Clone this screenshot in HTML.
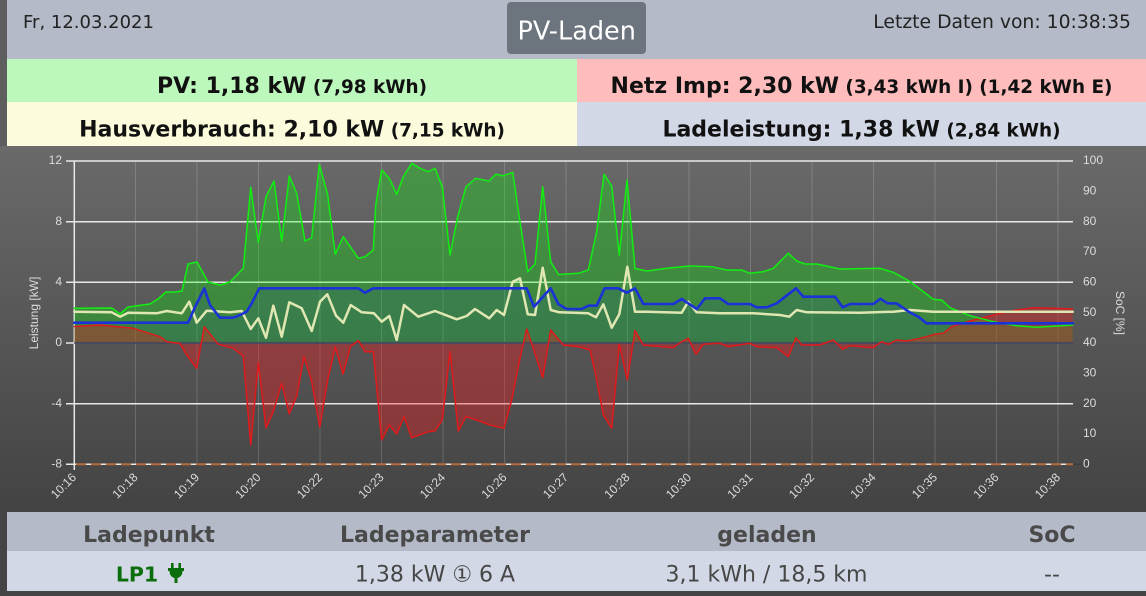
<!DOCTYPE html>
<html><head><meta charset="utf-8">
<style>
html,body{margin:0;padding:0;width:1146px;height:596px;overflow:hidden;background:#444;}
svg{display:block;}
</style></head>
<body>
<svg width="1146" height="596" viewBox="0 0 1146 596" xmlns="http://www.w3.org/2000/svg">
<defs>
<linearGradient id="bg" x1="0" y1="146" x2="0" y2="512" gradientUnits="userSpaceOnUse">
<stop offset="0" stop-color="#6a6a6a"/><stop offset="1" stop-color="#434343"/>
</linearGradient>
</defs>
<!-- page frame -->
<rect x="0" y="0" width="1146" height="596" fill="#444"/>
<rect x="0" y="0" width="7" height="146" fill="#5e5e5e"/>
<!-- top header -->
<rect x="7" y="0" width="1139" height="59" fill="#b5bac8"/>
<text x="23" y="28" font-family="DejaVu Sans, Liberation Sans, sans-serif" font-size="18" fill="#222">Fr, 12.03.2021</text>
<text x="1131" y="28" text-anchor="end" font-family="DejaVu Sans, Liberation Sans, sans-serif" font-size="18.8" fill="#222">Letzte Daten von: 10:38:35</text>
<rect x="507" y="2" width="139" height="52" rx="4" fill="#6c757d"/>
<text x="576.7" y="39.3" text-anchor="middle" font-family="DejaVu Sans, Liberation Sans, sans-serif" font-size="25.5" fill="#fff">PV-Laden</text>
<!-- rows -->
<rect x="7" y="59" width="570" height="43" fill="#bcf8bc"/>
<rect x="577" y="59" width="569" height="43" fill="#ffbcbc"/>
<rect x="7" y="102" width="570" height="44" fill="#fcfcdc"/>
<rect x="577" y="102" width="569" height="44" fill="#d2d8e6"/>
<g font-family="DejaVu Sans, Liberation Sans, sans-serif" font-weight="bold" fill="#111" text-anchor="middle">
<text x="292" y="93"><tspan font-size="22">PV: 1,18 kW</tspan><tspan font-size="18.4"> (7,98 kWh)</tspan></text>
<text x="861.5" y="93"><tspan font-size="22">Netz Imp: 2,30 kW</tspan><tspan font-size="18.4"> (3,43 kWh I) (1,42 kWh E)</tspan></text>
<text x="292" y="136.5"><tspan font-size="22">Hausverbrauch: 2,10 kW</tspan><tspan font-size="18.4"> (7,15 kWh)</tspan></text>
<text x="861.5" y="136.5"><tspan font-size="22">Ladeleistung: 1,38 kW</tspan><tspan font-size="18.4"> (2,84 kWh)</tspan></text>
</g>
<!-- chart background -->
<rect x="0" y="146" width="1146" height="366" fill="url(#bg)"/>
<!-- vertical gridlines -->
<g stroke="#ffffff" stroke-opacity="0.17" stroke-width="1">
<line x1="135.5" y1="161" x2="135.5" y2="465"/><line x1="197" y1="161" x2="197" y2="465"/>
<line x1="258.5" y1="161" x2="258.5" y2="465"/><line x1="320" y1="161" x2="320" y2="465"/>
<line x1="381.5" y1="161" x2="381.5" y2="465"/><line x1="443" y1="161" x2="443" y2="465"/>
<line x1="504.5" y1="161" x2="504.5" y2="465"/><line x1="566" y1="161" x2="566" y2="465"/>
<line x1="627.5" y1="161" x2="627.5" y2="465"/><line x1="689" y1="161" x2="689" y2="465"/>
<line x1="750.5" y1="161" x2="750.5" y2="465"/><line x1="812" y1="161" x2="812" y2="465"/>
<line x1="873.5" y1="161" x2="873.5" y2="465"/><line x1="935" y1="161" x2="935" y2="465"/>
<line x1="996.5" y1="161" x2="996.5" y2="465"/><line x1="1058" y1="161" x2="1058" y2="465"/>
</g>
<!-- horizontal gridlines -->
<g stroke="#e8e8e8" stroke-width="1.5">
<line x1="66" y1="161" x2="1073" y2="161"/>
<line x1="66" y1="221.7" x2="1073" y2="221.7"/>
<line x1="66" y1="282.3" x2="1073" y2="282.3"/>
<line x1="66" y1="403.7" x2="1073" y2="403.7"/>
<line x1="66" y1="464.3" x2="1073" y2="464.3"/>
<line x1="66" y1="343" x2="74" y2="343"/>
</g>
<line x1="74.3" y1="161" x2="74.3" y2="470" stroke="#e8e8e8" stroke-width="1.5"/>
<g stroke="#3c3c3c" stroke-width="1.2">
<line x1="1073" y1="464.3" x2="1081" y2="464.3"/>
</g>
<!-- fills -->
<polygon fill="rgb(0,255,0)" fill-opacity="0.29" points="74.3,308.3 111.7,308 120,314 128,307 150,304 158,299 166,292 175,292 182,291 188,264 197,262 208,282 220,285 230,282 243.3,268.3 250.7,187.3 258.3,242.3 266,196.7 274,181 281.7,241 289.3,176 296.7,193.3 305,241 311.7,237.7 319.3,164.3 327.7,195 335.3,254.3 343.3,236.7 358.3,258.3 365,256.7 373.3,250 375.7,205 381.7,170 389.3,178.3 396.7,194.3 403.3,176.7 411.7,163.3 420,168.3 428.3,171.7 435,168.3 442.3,186.7 450,255 457.7,216.7 466,186.7 475.7,178.3 489,181 495.7,174.3 503.3,175.7 512.7,172.3 520,221.7 527.7,271.7 535,264 542.7,186.7 550.7,261.7 558.5,274.5 578.3,273.3 588.3,270 596.7,231.7 604,174.3 611.7,186 619.3,255 627,180 635,268.5 646.7,271 666.7,268.3 690,266 711.7,266.7 726.7,270 741.7,270 750,273.3 763.3,271.7 773.3,268.3 788.3,253.3 796.7,261 805,264 816.7,264 840,269 880,268.3 893.3,272.3 910,281.5 933.3,299.3 941.7,300 950,307.7 970,315.7 993.3,321.7 1016.7,325.7 1036.7,327.3 1072.7,325 1072.7,343 74.3,343"/>
<polygon fill="rgb(0,0,255)" fill-opacity="0.07" points="74.3,322.7 188,322.7 196,305 204.3,288.3 210,305 220,317.7 233,317.7 240,315 246.7,311.7 251.7,303.3 259.3,288.3 358.3,288.3 365,292.7 373.3,288.3 526.7,288.3 534,306.7 550.7,288.3 558.3,304 566.7,309 581.7,309 588.3,305.7 596.7,305.7 604.5,288.3 618.3,288.3 626.7,292.7 635,288.3 643.3,304 673.3,304 681.7,299 696.7,309 705,298.3 720,298.3 728.3,304 750,304 756.7,307.3 766.7,307.3 776.7,303.3 796,288.3 803.3,296.7 835,296.7 842.7,307.3 850,304 873.3,304 880.5,298.7 887.5,303.3 896.7,303.5 910,312.5 918.3,316.7 926.7,323.3 1072.7,323.3 1072.7,343 74.3,343"/>
<polygon fill="rgb(255,20,20)" fill-opacity="0.34" points="74.3,326.5 100,325 133.3,328.3 160,336.7 166.7,341.7 180,343.5 186.7,355 196.7,368.3 204.3,326.7 218.3,344.3 233.3,348.3 243.3,356 250.7,445 258.3,363 266,428 273.3,411.7 281.7,383.3 289.3,414 296.7,396 304,356.5 311.7,381.7 319.8,427 327.8,379 335.3,347.2 343,374 350.4,346.7 358.3,340.5 365,351.7 373.3,351.7 381.7,440 389.3,425 396.7,434 404,416.7 411.7,437.7 428.3,431.7 435,431 442.3,420 450,351.7 458.3,431 466,416.7 476.7,420 490,425 504,428.3 511.7,400 520,358.3 526.7,329 533.3,348.3 542.7,377.7 550.7,330 563.3,345 578.3,346.7 590,350 596,376.7 603.3,415 611.7,428.3 619.3,344.3 627.3,380 635,330.5 643.3,345 673.3,347.7 681.7,341.7 688.3,338.3 696,354.3 703.3,344.3 720,343.3 728.3,346.7 750,343.3 756.7,346.7 776.7,347.7 788.3,356.7 796,337.7 801.7,345 820,345 833.3,340 842.7,349.3 850,345.7 873.3,347.7 881.7,341.7 888.3,344.3 896.7,340 906.7,341 920,338.3 935,334.3 943.3,333.3 951.7,326.7 970,321 993.3,315 1016.7,310 1033.3,307.7 1053.3,308.3 1072.7,309 1072.7,343 74.3,343"/>
<!-- zero line -->
<line x1="74.3" y1="343" x2="1073" y2="343" stroke="#4b4a5a" stroke-width="2.2"/>
<!-- SoC dashed -->
<line x1="76" y1="464.3" x2="1073" y2="464.3" stroke="#b66b3c" stroke-width="2" stroke-dasharray="10 5"/>
<!-- lines -->
<g fill="none" stroke-linejoin="round" stroke-linecap="round">
<polyline stroke="#e01a1c" stroke-width="1.5" points="74.3,326.5 100,325 133.3,328.3 160,336.7 166.7,341.7 180,343.5 186.7,355 196.7,368.3 204.3,326.7 218.3,344.3 233.3,348.3 243.3,356 250.7,445 258.3,363 266,428 273.3,411.7 281.7,383.3 289.3,414 296.7,396 304,356.5 311.7,381.7 319.8,427 327.8,379 335.3,347.2 343,374 350.4,346.7 358.3,340.5 365,351.7 373.3,351.7 381.7,440 389.3,425 396.7,434 404,416.7 411.7,437.7 428.3,431.7 435,431 442.3,420 450,351.7 458.3,431 466,416.7 476.7,420 490,425 504,428.3 511.7,400 520,358.3 526.7,329 533.3,348.3 542.7,377.7 550.7,330 563.3,345 578.3,346.7 590,350 596,376.7 603.3,415 611.7,428.3 619.3,344.3 627.3,380 635,330.5 643.3,345 673.3,347.7 681.7,341.7 688.3,338.3 696,354.3 703.3,344.3 720,343.3 728.3,346.7 750,343.3 756.7,346.7 776.7,347.7 788.3,356.7 796,337.7 801.7,345 820,345 833.3,340 842.7,349.3 850,345.7 873.3,347.7 881.7,341.7 888.3,344.3 896.7,340 906.7,341 920,338.3 935,334.3 943.3,333.3 951.7,326.7 970,321 993.3,315 1016.7,310 1033.3,307.7 1053.3,308.3 1072.7,309"/>
<polyline stroke="#12ee12" stroke-width="1.5" points="74.3,308.3 111.7,308 120,314 128,307 150,304 158,299 166,292 175,292 182,291 188,264 197,262 208,282 220,285 230,282 243.3,268.3 250.7,187.3 258.3,242.3 266,196.7 274,181 281.7,241 289.3,176 296.7,193.3 305,241 311.7,237.7 319.3,164.3 327.7,195 335.3,254.3 343.3,236.7 358.3,258.3 365,256.7 373.3,250 375.7,205 381.7,170 389.3,178.3 396.7,194.3 403.3,176.7 411.7,163.3 420,168.3 428.3,171.7 435,168.3 442.3,186.7 450,255 457.7,216.7 466,186.7 475.7,178.3 489,181 495.7,174.3 503.3,175.7 512.7,172.3 520,221.7 527.7,271.7 535,264 542.7,186.7 550.7,261.7 558.5,274.5 578.3,273.3 588.3,270 596.7,231.7 604,174.3 611.7,186 619.3,255 627,180 635,268.5 646.7,271 666.7,268.3 690,266 711.7,266.7 726.7,270 741.7,270 750,273.3 763.3,271.7 773.3,268.3 788.3,253.3 796.7,261 805,264 816.7,264 840,269 880,268.3 893.3,272.3 910,281.5 933.3,299.3 941.7,300 950,307.7 970,315.7 993.3,321.7 1016.7,325.7 1036.7,327.3 1072.7,325"/>
<polyline stroke="#e0e7b2" stroke-width="2.5" points="74.3,311.7 111.7,312.3 120,316.7 128.3,312.7 156.7,313.3 166.7,311 181.7,313.3 189.3,301.7 196.7,322.7 206.7,310.7 230,312.3 241.7,311 250.7,329 258.3,318.3 266,337.7 273.3,305.7 281.7,336.7 289.3,302.3 301.7,308.3 311.7,331 320,301.7 327.3,294.3 336,315.7 343.3,322.7 350.7,305 361.7,312.3 374,313.3 381.7,321.7 389.3,316 396.7,340 404,305 418.3,316.7 435,311 456.7,319.3 466.7,316 475,309 489.3,318.3 496.7,310 504,315 512.7,281.7 520,278.3 527.7,314.3 535,315 542.7,267.7 550.7,310 559.3,312.3 588.3,313.3 596,317.3 603.3,304.3 611.7,327.7 619.3,314.3 627.3,266.7 635,311.7 646.7,311.7 681.7,312.7 688.3,301.7 696.7,312.3 720,313.3 753.3,313.3 780,315 789.3,316.7 796.7,310 806.7,312.3 860,312.7 893.3,311.7 910,310 933.3,311.7 1072.7,311.7"/>
<polyline stroke="#1a32d6" stroke-width="2.6" points="74.3,322.7 188,322.7 196,305 204.3,288.3 210,305 220,317.7 233,317.7 240,315 246.7,311.7 251.7,303.3 259.3,288.3 358.3,288.3 365,292.7 373.3,288.3 526.7,288.3 534,306.7 550.7,288.3 558.3,304 566.7,309 581.7,309 588.3,305.7 596.7,305.7 604.5,288.3 618.3,288.3 626.7,292.7 635,288.3 643.3,304 673.3,304 681.7,299 696.7,309 705,298.3 720,298.3 728.3,304 750,304 756.7,307.3 766.7,307.3 776.7,303.3 796,288.3 803.3,296.7 835,296.7 842.7,307.3 850,304 873.3,304 880.5,298.7 887.5,303.3 896.7,303.5 910,312.5 918.3,316.7 926.7,323.3 1072.7,323.3"/>
</g>
<!-- axis labels -->
<g font-family="Liberation Sans, Arial, sans-serif" font-size="12" fill="#dcdcdc">
<g text-anchor="end" dominant-baseline="middle">
<text x="62" y="161">12</text><text x="62" y="221.7">8</text><text x="62" y="282.3">4</text>
<text x="62" y="343">0</text><text x="62" y="403.7">-4</text><text x="62" y="464.3">-8</text>
</g>
<g dominant-baseline="middle">
<text x="1083" y="161">100</text><text x="1083" y="191.3">90</text><text x="1083" y="221.7">80</text>
<text x="1083" y="252">70</text><text x="1083" y="282.3">60</text><text x="1083" y="312.7">50</text>
<text x="1083" y="343">40</text><text x="1083" y="373.3">30</text><text x="1083" y="403.7">20</text>
<text x="1083" y="434">10</text><text x="1083" y="464.3">0</text>
</g>
<text transform="translate(38,313) rotate(-90)" text-anchor="middle">Leistung [kW]</text>
<text transform="translate(1116,313) rotate(90)" text-anchor="middle">SoC [%]</text>
<g text-anchor="end">
<text transform="translate(77,478) rotate(-45)">10:16</text>
<text transform="translate(138.5,478) rotate(-45)">10:18</text>
<text transform="translate(200,478) rotate(-45)">10:19</text>
<text transform="translate(261.5,478) rotate(-45)">10:20</text>
<text transform="translate(323,478) rotate(-45)">10:22</text>
<text transform="translate(384.5,478) rotate(-45)">10:23</text>
<text transform="translate(446,478) rotate(-45)">10:24</text>
<text transform="translate(507.5,478) rotate(-45)">10:26</text>
<text transform="translate(569,478) rotate(-45)">10:27</text>
<text transform="translate(630.5,478) rotate(-45)">10:28</text>
<text transform="translate(692,478) rotate(-45)">10:30</text>
<text transform="translate(753.5,478) rotate(-45)">10:31</text>
<text transform="translate(815,478) rotate(-45)">10:32</text>
<text transform="translate(876.5,478) rotate(-45)">10:34</text>
<text transform="translate(938,478) rotate(-45)">10:35</text>
<text transform="translate(999.5,478) rotate(-45)">10:36</text>
<text transform="translate(1061,478) rotate(-45)">10:38</text>
</g>
</g>
<!-- bottom table -->
<rect x="7" y="512" width="1139" height="39" fill="#b5bac8"/>
<rect x="7" y="551" width="1139" height="40" fill="#d2d8e6"/>
<g font-family="DejaVu Sans, Liberation Sans, sans-serif" font-size="22" font-weight="bold" fill="#4a4a4a" text-anchor="middle">
<text x="149" y="542">Ladepunkt</text>
<text x="435" y="542">Ladeparameter</text>
<text x="767" y="542">geladen</text>
<text x="1052" y="542">SoC</text>
</g>
<text x="137" y="581.5" text-anchor="middle" font-family="DejaVu Sans, Liberation Sans, sans-serif" font-size="20.5" font-weight="bold" fill="#0b6e0b">LP1</text>
<g fill="#0b6e0b" transform="translate(168,563)">
<rect x="3" y="0" width="2.6" height="5"/>
<rect x="10.4" y="0" width="2.6" height="5"/>
<path d="M0,5 H16 V8 H14.5 C14.5,12 12,14.5 9.5,15 V20 H6.5 V15 C4,14.5 1.5,12 1.5,8 H0 Z"/>
</g>
<g font-family="DejaVu Sans, Noto Sans CJK JP, Liberation Sans, sans-serif" font-size="22" fill="#474747" text-anchor="middle">
<text x="435" y="581.5">1,38 kW ① 6 A</text>
<text x="766.5" y="581.5">3,1 kWh / 18,5 km</text>
<text x="1052" y="581.5">--</text>
</g>
</svg>
</body></html>
